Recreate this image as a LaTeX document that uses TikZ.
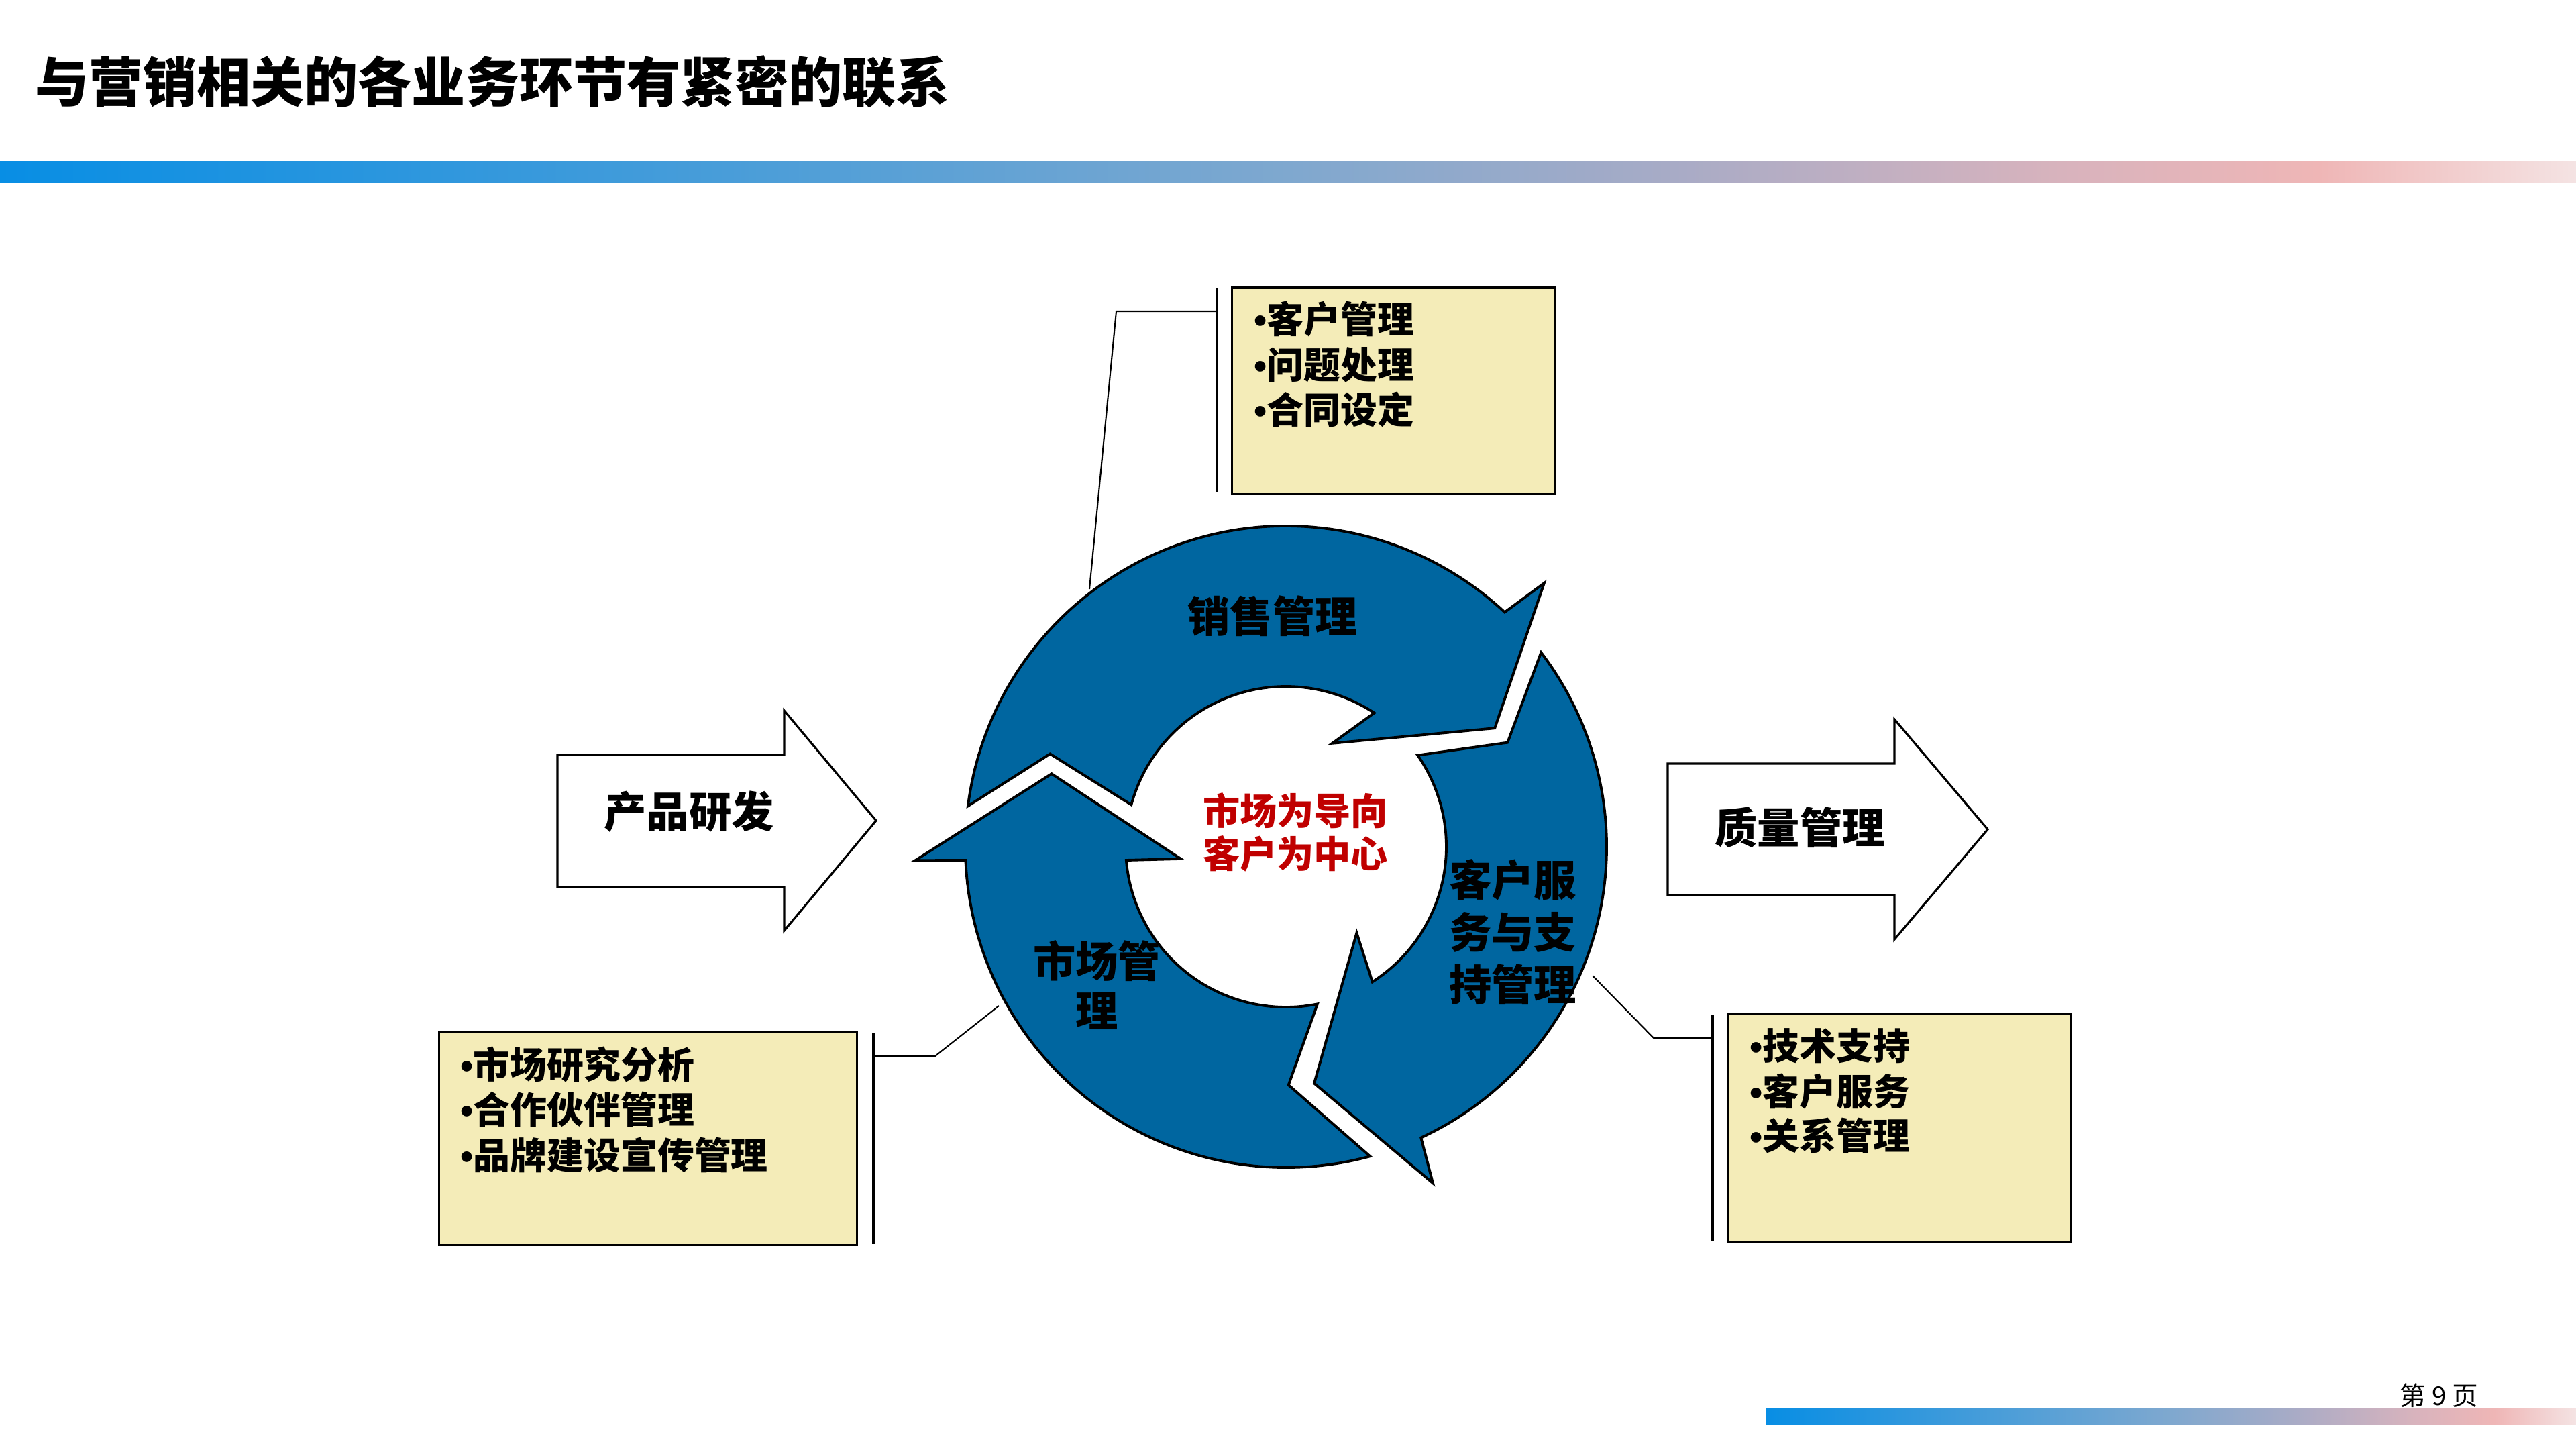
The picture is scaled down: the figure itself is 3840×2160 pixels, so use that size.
\documentclass[tikz,border=0pt]{standalone}
\usepackage{fontspec}
\newfontfamily\cjk{Noto Sans CJK SC}
\newfontfamily\latb{Liberation Sans}
\usetikzlibrary{calc}
\definecolor{arrowblue}{RGB}{0,102,160}
\definecolor{boxyellow}{RGB}{244,236,184}
\definecolor{centerred}{RGB}{192,0,0}
\definecolor{ga}{RGB}{8,142,228}
\definecolor{gb}{RGB}{77,158,216}
\definecolor{gc}{RGB}{127,168,207}
\definecolor{gd}{RGB}{168,171,198}
\definecolor{ge}{RGB}{216,179,189}
\definecolor{gf}{RGB}{239,182,182}
\definecolor{gg}{RGB}{244,227,227}
\pgfdeclarehorizontalshading{barshade}{100bp}{color(0bp)=(ga); color(25bp)=(ga); color(40bp)=(gb); color(50bp)=(gc); color(57.5bp)=(gd); color(65bp)=(ge); color(70bp)=(gf); color(75bp)=(gg); color(100bp)=(gg)}
\newcommand\bul{{\latb\bfseries •}}
\tikzset{
  cyclearrow/.style={fill=arrowblue, draw=black, line width=1.1pt, line join=miter},
  flowarrow/.style={fill=white, draw=black, line width=0.9pt, line join=miter},
  callbox/.style={draw=black, fill=boxyellow, line width=0.9pt, inner sep=0pt},
  bracket/.style={draw=black, line width=1pt},
  leader/.style={draw=black, line width=0.6pt},
  titletext/.style={font=\cjk\bfseries\fontsize{22.8pt}{27pt}\selectfont, anchor=west, inner sep=0pt},
  pagenum/.style={font=\cjk\fontsize{11pt}{13pt}\selectfont, inner sep=0pt},
  lbl/.style={font=\cjk\bfseries\fontsize{18pt}{22.2pt}\selectfont, inner sep=0pt, align=center},
  lbltwo/.style={font=\cjk\bfseries\fontsize{18pt}{21pt}\selectfont, inner sep=0pt, align=center},
  centertext/.style={font=\cjk\bfseries\fontsize{15.7pt}{18.2pt}\selectfont, text=centerred, inner sep=0pt, align=center},
  item/.style={font=\cjk\bfseries\fontsize{15.6pt}{19pt}\selectfont, anchor=base west, inner sep=0pt},
}
\begin{document}
\begin{tikzpicture}[x=0.01cm,y=-0.01cm]
\useasboundingbox (0,0) rectangle (3840,2160);
\fill[white] (0,0) rectangle (3840,2160);

% title and bars
\node[titletext] (title) at (52,122) {与营销相关的各业务环节有紧密的联系};
\shade[shading=barshade] (0,240) rectangle (3840,272);
\shade[shading=barshade] (2633,2099) rectangle (3840,2122);
\node[pagenum] (page) at (3636,2080) {第 9 页};

% flow arrows
\draw[flowarrow] (831,1125) -- (1169,1125) -- (1169,1059) -- (1306,1223) -- (1169,1387) -- (1169,1322) -- (831,1322) -- cycle;
\node[lbl] (rd) at (1027,1210) {产品研发};
\draw[flowarrow] (2486,1138) -- (2824,1138) -- (2824,1072) -- (2963,1236) -- (2824,1400) -- (2824,1334) -- (2486,1334) -- cycle;
\node[lbl] (qm) at (2683,1233) {质量管理};

% cycle arrows
\begin{scope}[shift={(1917,1262)}]
\path[cyclearrow] (187.3:478) arc[start angle=187.3,end angle=313,radius=478]
  -- (314.4:550) -- (330.4:358) -- (294.1:169) -- (303.4:239)
  arc[start angle=303.4,end angle=195.2,radius=239] -- (201.5:378) -- cycle;
\path[cyclearrow] (322.7:478) arc[start angle=322.7,end angle=425.1,radius=478]
  -- (426.4:547) -- (443.2:355) -- (410.6:166) -- (417.4:239)
  arc[start angle=417.4,end angle=325.2,radius=239] -- (334.8:365) -- cycle;
\path[cyclearrow] (74.8:478) arc[start angle=74.8,end angle=177.6,radius=478]
  -- (177.9:553) -- (197.3:366) -- (173.5:158) -- (175.2:239)
  arc[start angle=175.2,end angle=78.7,radius=239] -- (89.4:355) -- cycle;
\end{scope}
\node[lbl] (sales) at (1897,918) {销售管理};
\node[lbl] (service) at (2255,1389) {客户服\\务与支\\持管理};
\node[lbltwo] (market) at (1635,1468) {市场管\\理};
\node[centertext] (core) at (1931,1240) {市场为导向\\客户为中心};

% top callout
\node[callbox, minimum width=4.81cm, minimum height=3.07cm] (boxtop) at (2077.5,581.5) {};
\coordinate (bta) at (1814,429);
\coordinate (btb) at (1814,733);
\draw[bracket] (bta) -- (btb);
\coordinate (lta) at (1814,464);
\coordinate (ltb) at (1664,464);
\coordinate (ltc) at (1624,878);
\draw[leader] (lta) -- (ltb) -- (ltc);
\node[item] (ta) at (1869,496) {\bul 客户管理};
\node[item] (tb) at (1869,564) {\bul 问题处理};
\node[item] (tc) at (1869,631) {\bul 合同设定};

% left callout
\node[callbox, minimum width=6.22cm, minimum height=3.17cm] (boxleft) at (966,1696.5) {};
\coordinate (bla) at (1302,1539);
\coordinate (blb) at (1302,1854);
\draw[bracket] (bla) -- (blb);
\coordinate (lla) at (1302,1574);
\coordinate (llb) at (1394,1574);
\coordinate (llc) at (1489,1499);
\draw[leader] (lla) -- (llb) -- (llc);
\node[item] (la) at (686,1607) {\bul 市场研究分析};
\node[item] (lb) at (686,1674) {\bul 合作伙伴管理};
\node[item] (lc) at (686,1742) {\bul 品牌建设宣传管理};

% right callout
\node[callbox, minimum width=5.09cm, minimum height=3.39cm] (boxright) at (2831.5,1680.5) {};
\coordinate (bra) at (2553,1512);
\coordinate (brb) at (2553,1849);
\draw[bracket] (bra) -- (brb);
\coordinate (lra) at (2553,1547);
\coordinate (lrb) at (2465,1547);
\coordinate (lrc) at (2374,1454);
\draw[leader] (lra) -- (lrb) -- (lrc);
\node[item] (ra) at (2608,1579) {\bul 技术支持};
\node[item] (rb) at (2608,1647) {\bul 客户服务};
\node[item] (rc) at (2608,1713) {\bul 关系管理};
\end{tikzpicture}
\end{document}
